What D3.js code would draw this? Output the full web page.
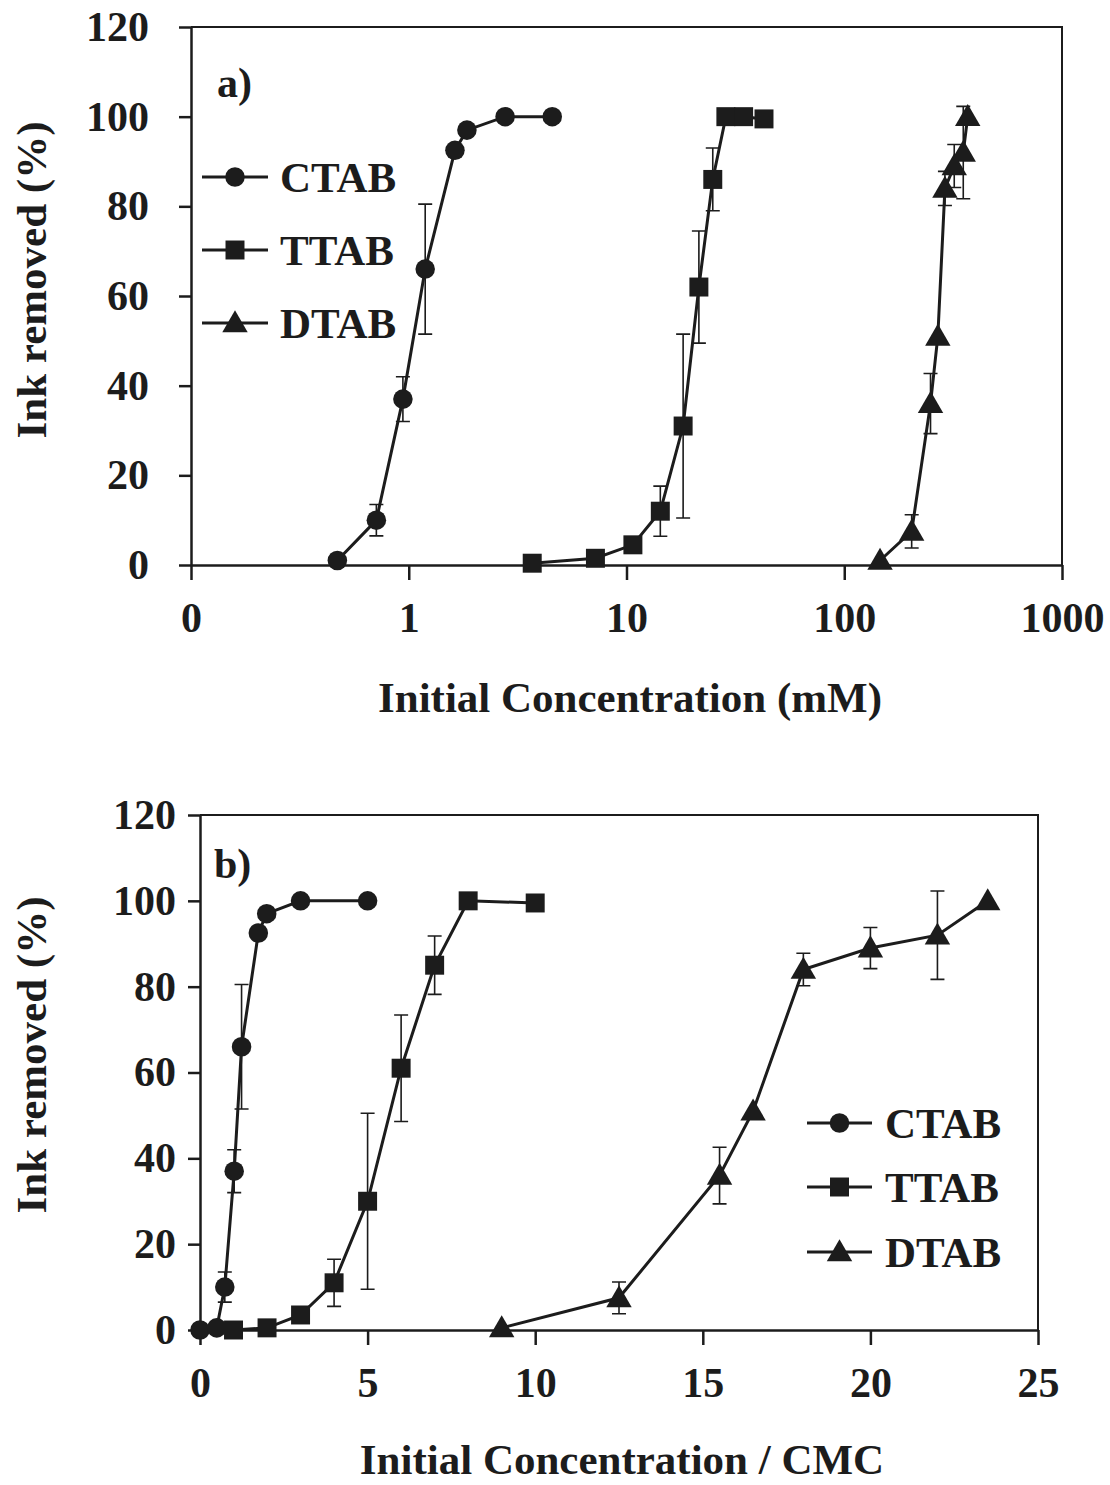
<!DOCTYPE html>
<html>
<head>
<meta charset="utf-8">
<script src="https://cdn.jsdelivr.net/npm/d3@7"></script>
<style>
  body { margin: 0; background: #fff; overflow: hidden; }
  text { font-family: "Liberation Serif", "Times New Roman", serif; font-weight: bold; fill: #1c1c1c; }
</style>
</head>
<body>
<script>
// panel a) x in mM (log axis)
const ctabA_x = [0.47, 0.71, 0.94, 1.19, 1.63, 1.85, 2.77, 4.56];
const ctabA_y = [1, 10, 37, 66, 92.5, 97, 100, 100];
const ctabA_err = [0, 3.5, 5, 14.5, 0, 0, 0, 0];

const ttabA_x = [3.69, 7.2, 10.7, 14.3, 18.2, 21.5, 24.9, 28.6, 34.5, 42.8];
const ttabA_y = [0.4, 1.5, 4.5, 12, 31, 62, 86, 100, 100, 99.5];
const ttabA_err = [0, 0, 1.5, 5.6, 20.5, 12.5, 7, 0, 0, 0];

const dtabA_x = [146, 204, 249, 269, 290, 320, 352, 369];
const dtabA_y = [1, 7.5, 36, 51, 84, 89, 92, 100];
const dtabA_err = [0, 3.7, 6.7, 0, 3.8, 4.8, 10.3, 0];

// panel b) x as concentration / CMC
const ctabB_x = [0, 0.5, 0.74, 1.02, 1.24, 1.74, 1.99, 3.0, 5.0];
const ctabB_y = [0, 0.5, 10, 37, 66, 92.5, 97, 100, 100];
const ctabB_err = [0, 0, 3.5, 5, 14.5, 0, 0, 0, 0];

const ttabB_x = [1, 2, 3, 4, 5, 6, 7, 8, 10];
const ttabB_y = [0, 0.5, 3.5, 11, 30, 61, 85, 100, 99.5];
const ttabB_err = [0, 0, 1.5, 5.5, 20.5, 12.4, 6.8, 0, 0];

const dtabB_x = [9, 12.5, 15.5, 16.5, 18, 20, 22, 23.5];
const dtabB_y = [0.5, 7.5, 36, 51, 84, 89, 92, 100];
const dtabB_err = [0, 3.7, 6.6, 0, 3.8, 4.8, 10.3, 0];

const names = ['CTAB', 'TTAB', 'DTAB'];
const yTicks = [0, 20, 40, 60, 80, 100, 120];
const xTicksA = [0.1, 1, 10, 100, 1000];
const xTicksB = [0, 5, 10, 15, 20, 25];

const ink = '#1c1c1c';
const shapes = [d3.symbolCircle, d3.symbolSquare, d3.symbolTriangle];
const sizes = [300, 360, 280];

let svg = d3.select('body').append('svg')
    .attr('width', 1110)
    .attr('height', 1485)
    .style('display', 'block');

function zip(xs, ys, es) {
    return xs.map((x, i) => ({x, y: ys[i], e: es[i]}));
}

function panel(opt) {
    const g = svg.append('g');
    const x = opt.x, y = opt.y;
    const [x0, x1] = x.range(), [y0, y1] = y.range();

    // frame (top and right)
    g.append('path')
        .attr('d', `M${x0},${y1}H${x1}V${y0}`)
        .attr('fill', 'none').attr('stroke', ink).attr('stroke-width', 2);

    // y axis
    const ya = g.append('g').attr('transform', `translate(${x0},0)`)
        .call(d3.axisLeft(y).tickValues(yTicks).tickSize(12).tickPadding(opt.yPad).tickSizeOuter(0));
    ya.select('.domain').attr('stroke', ink).attr('stroke-width', 2.5);
    ya.selectAll('.tick line').attr('stroke', ink).attr('stroke-width', 2.5);
    ya.selectAll('.tick text').attr('font-size', 42).attr('font-family', null).attr('fill', ink);

    // x axis
    const xa = g.append('g').attr('transform', `translate(0,${y0})`)
        .call(d3.axisBottom(x).tickValues(opt.xTicks).tickFormat(opt.fmt).tickSize(15).tickPadding(22).tickSizeOuter(0));
    xa.select('.domain').attr('stroke', ink).attr('stroke-width', 2.5);
    xa.selectAll('.tick line').attr('stroke', ink).attr('stroke-width', 2.5);
    xa.selectAll('.tick text').attr('font-size', 42).attr('font-family', null).attr('fill', ink);

    // titles
    g.append('text').text(opt.xTitle)
        .attr('x', opt.xTitlePos[0]).attr('y', opt.xTitlePos[1])
        .attr('text-anchor', 'middle').attr('font-size', 43);
    g.append('text').text('Ink removed (%)')
        .attr('transform', `translate(${opt.yTitlePos[0]},${opt.yTitlePos[1]}) rotate(-90)`)
        .attr('text-anchor', 'middle').attr('font-size', 43);
    g.append('text').text(opt.tag)
        .attr('x', opt.tagPos[0]).attr('y', opt.tagPos[1]).attr('font-size', 42);

    const line = d3.line().x(d => x(d.x)).y(d => y(d.y));

    opt.series.forEach((s, k) => {
        const sg = g.append('g');
        // error bars
        const eb = s.filter(d => d.e > 0);
        sg.selectAll('.err').data(eb).enter().append('path')
            .attr('d', d => {
                const cx = x(d.x), t = y(d.y + d.e), b = y(d.y - d.e);
                return `M${cx},${t}V${b}M${cx - 7},${t}H${cx + 7}M${cx - 7},${b}H${cx + 7}`;
            })
            .attr('fill', 'none').attr('stroke', ink).attr('stroke-width', 1.6);
        sg.append('path').datum(s).attr('d', line)
            .attr('fill', 'none').attr('stroke', ink).attr('stroke-width', 3);
        sg.selectAll('.pt').data(s).enter().append('path')
            .attr('d', d3.symbol().type(shapes[k]).size(sizes[k]))
            .attr('transform', d => `translate(${x(d.x)},${y(d.y) + (k === 2 ? 2 : 0)})`)
            .attr('fill', ink);
    });

    // legend
    const lg = g.append('g');
    names.forEach((n, k) => {
        const ly = opt.leg.y[k];
        lg.append('line').attr('x1', opt.leg.x0).attr('x2', opt.leg.x1)
            .attr('y1', ly).attr('y2', ly).attr('stroke', ink).attr('stroke-width', 3);
        lg.append('path').attr('d', d3.symbol().type(shapes[k]).size(sizes[k])())
            .attr('transform', `translate(${(opt.leg.x0 + opt.leg.x1) / 2},${ly + (k === 2 ? 2 : 0)})`)
            .attr('fill', ink);
        lg.append('text').text(n).attr('x', opt.leg.tx).attr('y', ly + 15).attr('font-size', 43);
    });
}

panel({
    x: d3.scaleLog().domain([0.1, 1000]).range([191, 1062]),
    y: d3.scaleLinear().domain([0, 120]).range([565, 27]),
    xTicks: xTicksA,
    fmt: d => d < 1 ? '0' : String(d),
    yPad: 30,
    xTitle: 'Initial Concentration (mM)',
    xTitlePos: [630, 712],
    yTitlePos: [46, 280],
    tag: 'a)',
    tagPos: [217, 97],
    series: [zip(ctabA_x, ctabA_y, ctabA_err), zip(ttabA_x, ttabA_y, ttabA_err), zip(dtabA_x, dtabA_y, dtabA_err)],
    leg: {x0: 202, x1: 268, tx: 280, y: [177, 250, 323]}
});

panel({
    x: d3.scaleLinear().domain([0, 25]).range([200, 1038]),
    y: d3.scaleLinear().domain([0, 120]).range([1330, 815]),
    xTicks: xTicksB,
    fmt: d3.format('d'),
    yPad: 12,
    xTitle: 'Initial Concentration / CMC',
    xTitlePos: [622, 1474],
    yTitlePos: [46, 1055],
    tag: 'b)',
    tagPos: [214, 878],
    series: [zip(ctabB_x, ctabB_y, ctabB_err), zip(ttabB_x, ttabB_y, ttabB_err), zip(dtabB_x, dtabB_y, dtabB_err)],
    leg: {x0: 807, x1: 872, tx: 885, y: [1123, 1187, 1252]}
});
</script>
</body>
</html>
